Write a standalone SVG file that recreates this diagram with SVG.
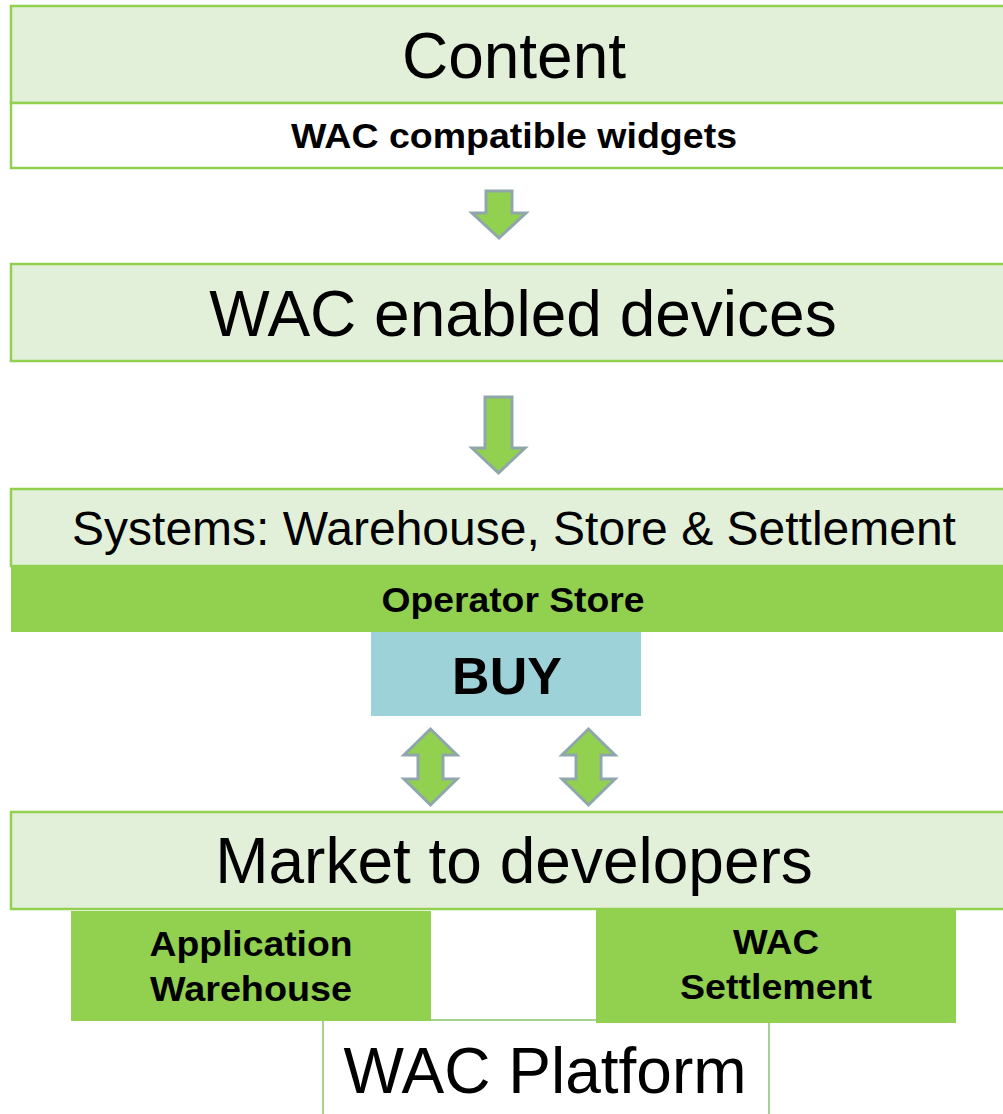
<svg xmlns="http://www.w3.org/2000/svg" width="1003" height="1114" viewBox="0 0 1003 1114">
<defs>
<style>
.band{fill:#E2F0D9;stroke:#92D050;stroke-width:2.5}
.white{fill:#FFFFFF;stroke:#92D050;stroke-width:2.5}
.solid{fill:#92D050}
.buy{fill:#9DD3D8}
.arrow{fill:#92D050;stroke:#8FA7AB;stroke-width:3;stroke-linejoin:miter}
.t{font-family:"Liberation Sans",Arial,sans-serif;fill:#000;text-anchor:middle}
.big{font-size:64px}
.mid{font-size:48px}
.b{font-weight:bold;font-size:35px}
.buyt{font-weight:bold;font-size:52px}
.plat{fill:#FFFFFF;stroke:#A9D18E;stroke-width:2}
</style>
</defs>
<rect width="1003" height="1114" fill="#FFFFFF"/>
<g id="content">
<rect class="band" x="11" y="6" width="1010" height="97"/>
<text class="t big" x="514" y="78">Content</text>
</g>
<g id="widgets">
<rect class="white" x="11" y="103" width="1010" height="65"/>
<text class="t b" x="514" y="148" textLength="446" lengthAdjust="spacingAndGlyphs">WAC compatible widgets</text>
</g>
<g id="devices">
<rect class="band" x="11" y="264" width="1010" height="97"/>
<text class="t big" x="523" y="336">WAC enabled devices</text>
</g>
<g id="systems">
<rect class="band" x="11" y="489" width="1010" height="77"/>
<text class="t mid" x="514" y="545">Systems: Warehouse, Store &amp; Settlement</text>
</g>
<g id="operator-store">
<rect class="solid" x="11" y="566" width="992" height="66"/>
<text class="t b" x="513" y="612" textLength="263" lengthAdjust="spacingAndGlyphs">Operator Store</text>
</g>
<g id="buy">
<rect class="buy" x="371" y="632" width="270" height="84"/>
<text class="t buyt" x="507" y="694">BUY</text>
</g>
<g id="market">
<rect class="band" x="11" y="812" width="1010" height="97"/>
<text class="t big" x="514" y="883">Market to developers</text>
</g>
<g id="platform">
<path class="plat" d="M323,1116 V1020 H769 V1116"/>
<text class="t big" x="545" y="1093">WAC Platform</text>
</g>
<g id="app-warehouse">
<rect class="solid" x="71" y="911" width="360" height="110"/>
<text class="t b" x="251" y="956" textLength="203" lengthAdjust="spacingAndGlyphs">Application</text>
<text class="t b" x="251" y="1001" textLength="202" lengthAdjust="spacingAndGlyphs">Warehouse</text>
</g>
<g id="wac-settlement">
<rect class="solid" x="596" y="909" width="360" height="114"/>
<text class="t b" x="776" y="954" textLength="86" lengthAdjust="spacingAndGlyphs">WAC</text>
<text class="t b" x="776" y="999" textLength="192" lengthAdjust="spacingAndGlyphs">Settlement</text>
</g>
<g id="connectors">
<path class="arrow" d="M486,191 H512 V213 H526 L499,238 L472,213 H486 Z"/>
<path class="arrow" d="M485,397 H512 V448 H525 L498.5,473 L472,448 H485 Z"/>
<path class="arrow" d="M430.5,729 L457,755 H443 V779 H457 L430.5,805 L404,779 H418 V755 H404 Z"/>
<path class="arrow" d="M588.5,729 L615,755 H601 V779 H615 L588.5,805 L562,779 H576 V755 H562 Z"/>
</g>
</svg>
